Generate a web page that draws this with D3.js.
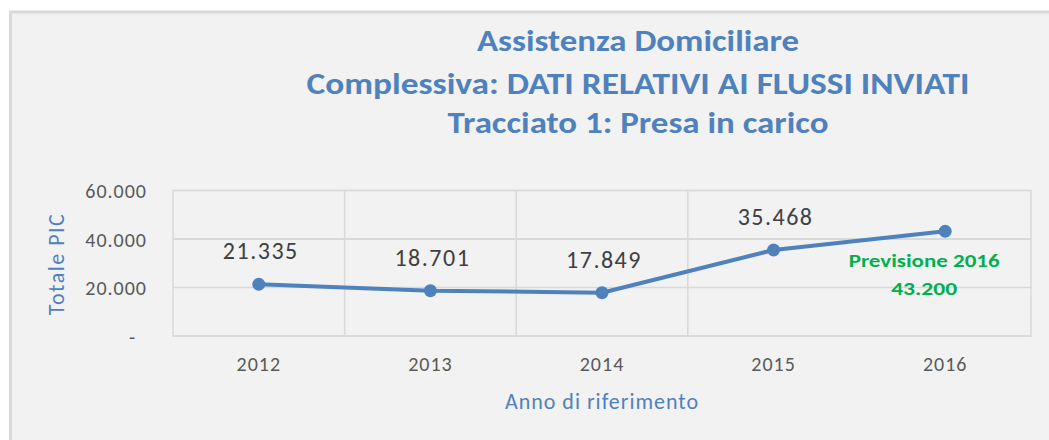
<!DOCTYPE html>
<html><head><meta charset="utf-8">
<script src="https://cdn.jsdelivr.net/npm/d3@7"></script>
<style>
html,body{margin:0;padding:0;background:#fff;}
svg{display:block;}
</style></head>
<body>
<svg id="chart" width="1049" height="440"></svg>
<script>
const years = ["2012","2013","2014","2015","2016"];
const values = [21335, 18701, 17849, 35468, 43200];
const dataLabels = ["21.335","18.701","17.849","35.468",""];
const forecastLabel = ["Previsione 2016","43.200"];
const yTicks = [0, 20000, 40000, 60000];
const titleLines = ["Assistenza Domiciliare","Complessiva:  DATI RELATIVI AI FLUSSI INVIATI","Tracciato 1: Presa in carico"];
const xTitle = "Anno di riferimento";
const yTitle = "Totale PIC";

const svg = d3.select("#chart");
const font = "Calibri, Carlito, Lato, 'Noto Sans', sans-serif";
const blue = "#4f81bd";

// frame
svg.append("rect").attr("x",10.5).attr("y",12).attr("width",1049).attr("height",440)
  .attr("fill","#f2f2f2").attr("stroke","#d9d9d9").attr("stroke-width",3);

// titles
const tl = [{y:51,len:322},{y:94,len:663},{y:133,len:381}];
svg.append("g").selectAll("text").data(titleLines).join("text")
  .attr("x",638).attr("y",(d,i)=>tl[i].y)
  .attr("text-anchor","middle")
  .attr("font-family",font).attr("font-weight","bold").attr("font-size",30)
  .attr("fill",blue)
  .attr("textLength",(d,i)=>tl[i].len).attr("lengthAdjust","spacingAndGlyphs")
  .text(d=>d);

const L=173, R=1031, T=190.5, B=336;
const x = d3.scaleBand().domain(years).range([L,R]);
const y = d3.scaleLinear().domain([0,60000]).range([B,T]);

// horizontal gridlines
svg.append("g").selectAll("line").data(yTicks).join("line")
  .attr("x1",L).attr("x2",R).attr("y1",d=>y(d)).attr("y2",d=>y(d))
  .attr("stroke","#d9d9d9").attr("stroke-width",d=>d===40000?2:1.5);
// vertical gridlines (category boundaries present in reference)
const vBounds = years.slice(1,4);
svg.append("g").selectAll("line").data(vBounds).join("line")
  .attr("x1",d=>x(d)).attr("x2",d=>x(d)).attr("y1",T).attr("y2",B)
  .attr("stroke","#d9d9d9").attr("stroke-width",1.5);
// plot border
svg.append("rect").attr("x",L).attr("y",T).attr("width",R-L).attr("height",B-T)
  .attr("fill","none").attr("stroke","#d9d9d9").attr("stroke-width",1.5);

// y axis
const yAxis = svg.append("g").attr("transform",`translate(${L},0)`)
  .call(d3.axisLeft(y).tickValues(yTicks).tickSize(0).tickPadding(26)
    .tickFormat(d=> d===0 ? "-" : d3.format(",")(d).replace(/,/g,".")));
yAxis.select(".domain").remove();
yAxis.selectAll("text").attr("font-family",font).attr("font-size",20).attr("fill","#595959")
  .attr("letter-spacing",1).attr("dy","0.35em")
  .attr("dx",d=>d===0?-11:0);

// x axis
const xAxis = svg.append("g").attr("transform",`translate(0,${B})`)
  .call(d3.axisBottom(x).tickSize(0).tickPadding(21));
xAxis.select(".domain").remove();
xAxis.selectAll("text").attr("font-family",font).attr("font-size",20).attr("fill","#595959")
  .attr("letter-spacing",1);

// axis titles
svg.append("text").attr("x",(L+R)/2).attr("y",409).attr("text-anchor","middle")
  .attr("font-family",font).attr("font-size",22).attr("letter-spacing",1).attr("fill",blue).text(xTitle);
svg.append("text").attr("transform","translate(64,264) rotate(-90)").attr("text-anchor","middle")
  .attr("font-family",font).attr("font-size",22).attr("letter-spacing",1.5).attr("fill",blue).text(yTitle);

// line + markers
const cx = d=>x(d)+x.bandwidth()/2;
const pts = years.map((d,i)=>({year:d,v:values[i],label:dataLabels[i]}));
svg.append("path").datum(pts)
  .attr("d",d3.line().x(d=>cx(d.year)).y(d=>y(d.v)))
  .attr("fill","none").attr("stroke",blue).attr("stroke-width",4).attr("stroke-linejoin","round");
svg.append("g").selectAll("circle").data(pts).join("circle")
  .attr("cx",d=>cx(d.year)).attr("cy",d=>y(d.v)).attr("r",6.5).attr("fill",blue);

// data labels
svg.append("g").selectAll("text").data(pts.filter(d=>d.label)).join("text")
  .attr("x",d=>cx(d.year)+2).attr("y",d=>y(d.v)-25)
  .attr("text-anchor","middle").attr("font-family",font).attr("font-size",24)
  .attr("letter-spacing",1.5).attr("fill","#404040")
  .text(d=>d.label);

// forecast label
const last = pts[pts.length-1];
svg.append("g").selectAll("text").data(forecastLabel).join("text")
  .attr("x",cx(last.year)-21).attr("y",(d,i)=>267+i*28)
  .attr("text-anchor","middle").attr("font-family",font).attr("font-weight","bold")
  .attr("font-size",19).attr("fill","#00b050")
  .attr("textLength",(d,i)=>i===0?151:66).attr("lengthAdjust","spacingAndGlyphs")
  .text(d=>d);
</script>
</body></html>
